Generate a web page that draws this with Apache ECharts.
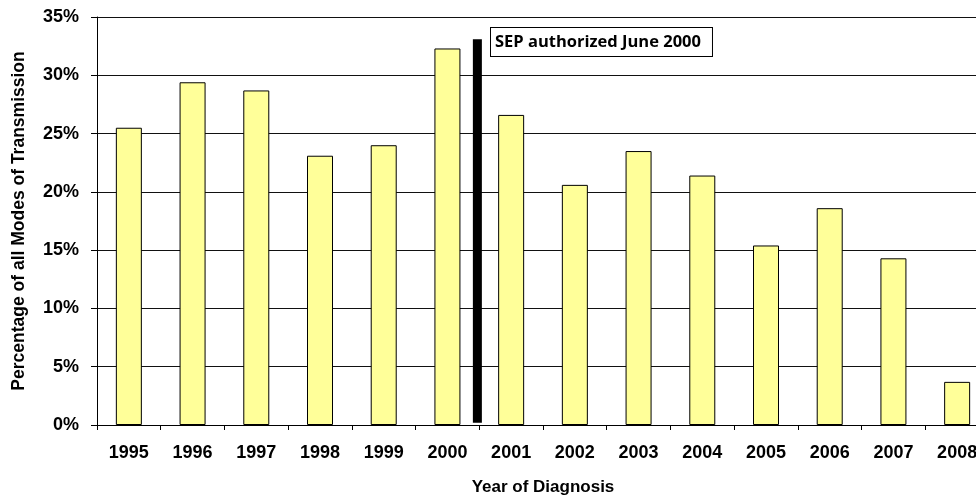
<!DOCTYPE html>
<html>
<head>
<meta charset="utf-8">
<script src="https://cdn.jsdelivr.net/npm/echarts@6/dist/echarts.min.js"></script>
<style>
  html, body { margin: 0; padding: 0; background: #fff; }
  #chart { width: 976px; height: 495px; }
</style>
</head>
<body>
<div id="chart"></div>
<script>
const years = ['1995', '1996', '1997', '1998', '1999', '2000', '2001', '2002', '2003', '2004', '2005', '2006', '2007', '2008']
const shares = [25.5, 29.4, 28.7, 23.1, 24.0, 32.3, 26.6, 20.6, 23.5, 21.4, 15.4, 18.6, 14.3, 3.7]
// marker for the SEP start, in category units (0 = left edge of 1995)
const sepMarker = [[5.97, 0.2], [5.97, 33.1]]
const sepNote = 'SEP authorized June 2000'

const chart = echarts.init(document.getElementById('chart'))
const axisFont = { fontFamily: 'Liberation Sans, Arial, sans-serif', fontWeight: 'bold', color: '#000' }

chart.setOption({
  animation: false,
  backgroundColor: '#fff',
  grid: { left: 97, top: 17, width: 892, height: 408, containLabel: false, outerBoundsMode: 'none' },
  xAxis: [
    {
      type: 'category',
      data: years,
      boundaryGap: true,
      axisLine: { lineStyle: { color: '#000', width: 1 } },
      axisTick: { show: true, length: 5, lineStyle: { color: '#000' } },
      axisLabel: { ...axisFont, fontSize: 18, margin: 19 },
      name: 'Year of Diagnosis',
      nameLocation: 'middle',
      nameGap: 54,
      nameTextStyle: { ...axisFont, fontSize: 17 },
    },
    { type: 'value', min: 0, max: 14, show: false },
  ],
  yAxis: {
    type: 'value',
    min: 0,
    max: 35,
    interval: 5,
    axisLine: { show: true, lineStyle: { color: '#000', width: 1 } },
    axisTick: { show: true, inside: false, length: 6, lineStyle: { color: '#000' } },
    axisLabel: { ...axisFont, fontSize: 18, margin: 18, formatter: '{value}%' },
    splitLine: { show: true, lineStyle: { color: '#111', width: 1 } },
    name: 'Percentage of all Modes of Transmission',
    nameLocation: 'middle',
    nameGap: 69,
    nameTextStyle: { ...axisFont, fontSize: 17.5 },
  },
  series: [
    {
      type: 'bar',
      data: shares,
      barWidth: 26,
      itemStyle: { color: '#FFFF99', borderColor: '#000', borderWidth: 1 },
    },
    {
      type: 'line',
      xAxisIndex: 1,
      data: sepMarker,
      symbol: 'none',
      lineStyle: { color: '#000', width: 9, cap: 'butt' },
      z: 5,
    },
  ],
  graphic: [
    {
      type: 'text',
      left: 490,
      top: 27,
      style: {
        text: sepNote,
        font: 'bold 16.5px "Open Sans", sans-serif',
        fill: '#000',
        backgroundColor: '#fff',
        borderColor: '#000',
        borderWidth: 1,
        padding: [6, 11, 5, 4],
      },
      z: 10,
    },
  ],
})
</script>
</body>
</html>
